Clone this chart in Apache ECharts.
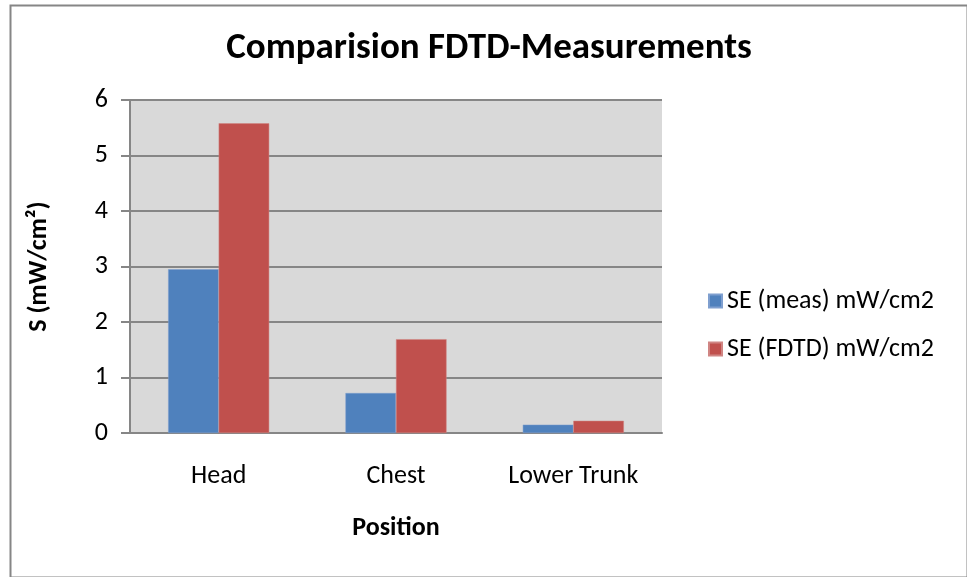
<!DOCTYPE html>
<html>
<head>
<meta charset="utf-8">
<script src="https://cdn.jsdelivr.net/npm/echarts@6/dist/echarts.min.js"></script>
<style>
html,body{margin:0;padding:0;background:#fff;}
#c{width:967px;height:577px;}
</style>
</head>
<body>
<div id="c"></div>
<script>
const categories = ['Head', 'Chest', 'Lower Trunk'];
const seriesNames = ['SE (meas) mW/cm2', 'SE (FDTD) mW/cm2'];
const measValues = [2.95, 0.72, 0.15];
const fdtdValues = [5.58, 1.69, 0.22];
const yTicks = [0, 1, 2, 3, 4, 5, 6];

const FONT = 'Carlito, "Open Sans", sans-serif';
const chart = echarts.init(document.getElementById('c'));
chart.setOption({
  animation: false,
  backgroundColor: '#fff',
  title: {
    text: 'Comparision FDTD-Measurements',
    left: 484, top: 25, textAlign: 'center',
    textStyle: {fontFamily: FONT, fontSize: 37, fontWeight: 'bold', color: '#000'}
  },
  graphic: [{
    type: 'rect', left: 8, top: 3, z: -1,
    shape: {width: 957, height: 572},
    style: {fill: 'none', stroke: '#868686', lineWidth: 2}
  }],
  legend: {
    orient: 'vertical', left: 703, top: 283, itemGap: 22,
    itemWidth: 13, itemHeight: 13, icon: 'rect',
    textStyle: {fontFamily: FONT, fontSize: 26, color: '#000'},
    data: seriesNames
  },
  grid: {left: 130, right: 305, top: 100, bottom: 144, backgroundColor: '#d9d9d9', show: true, borderWidth: 0},
  xAxis: {
    type: 'category', data: categories,
    name: 'Position', nameLocation: 'middle', nameGap: 82,
    nameTextStyle: {fontFamily: FONT, fontSize: 26, fontWeight: 'bold', color: '#000'},
    axisLine: {lineStyle: {color: '#868686', width: 2}},
    axisTick: {show: false},
    axisLabel: {fontFamily: FONT, fontSize: 26, color: '#000', margin: 30}
  },
  yAxis: {
    type: 'value', min: 0, max: 6, interval: 1,
    name: 'S (mW/cm²)', nameLocation: 'middle', nameGap: 78, nameRotate: 90,
    nameTextStyle: {fontFamily: FONT, fontSize: 26, fontWeight: 'bold', color: '#000'},
    axisLine: {show: true, lineStyle: {color: '#868686', width: 2}},
    axisTick: {show: true, length: 9, lineStyle: {color: '#868686', width: 2}},
    axisLabel: {fontFamily: FONT, fontSize: 26, color: '#000', margin: 22,
      formatter: v => yTicks.includes(v) ? String(v) : ''},
    splitLine: {lineStyle: {color: '#868686', width: 2}}
  },
  series: [
    {name: seriesNames[0], type: 'bar', data: measValues, barGap: '0%', barCategoryGap: '43%',
     itemStyle: {color: '#4f81bd', borderColor: '#7f9fcf', borderWidth: 0.5}},
    {name: seriesNames[1], type: 'bar', data: fdtdValues, barGap: '0%', barCategoryGap: '43%',
     itemStyle: {color: '#c0504d', borderColor: '#d08583', borderWidth: 0.5}}
  ]
});
</script>
</body>
</html>
